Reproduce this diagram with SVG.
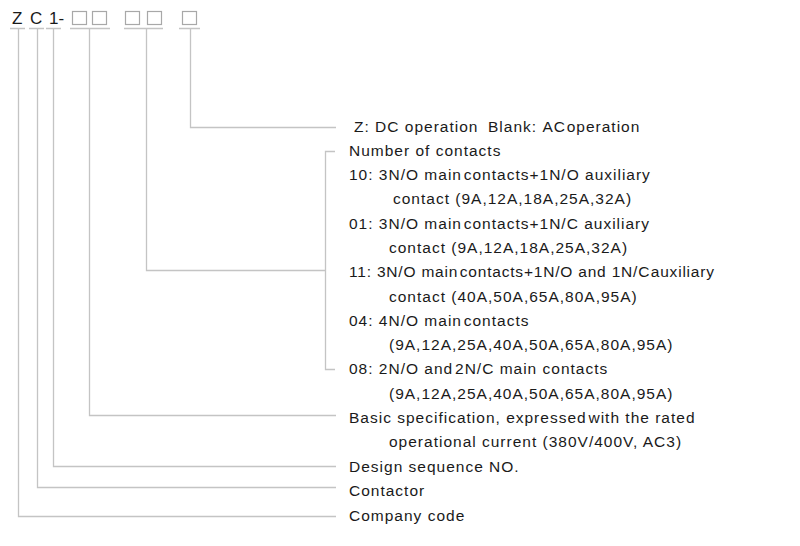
<svg xmlns="http://www.w3.org/2000/svg" width="800" height="546" viewBox="0 0 800 546">
<style>
.t{font-family:"Liberation Sans",Arial,sans-serif;font-size:15.5px;letter-spacing:1px;fill:#1a1a1a}
.h{font-family:"Liberation Sans",Arial,sans-serif;font-size:17px;fill:#1a1a1a}
.n{word-spacing:-3.5px}
.z{word-spacing:-4.5px}
.s{letter-spacing:0.8px}
.l{stroke:#c4c4c4;stroke-width:1.3;fill:none}
.b{stroke:#a8a8a8;stroke-width:1.2;fill:#fff}
</style>
<rect width="800" height="546" fill="#fff"/>
<g id="code">
<text class="h" x="12" y="24">Z</text>
<text class="h" x="30" y="24">C</text>
<text class="h" x="49" y="24">1-</text>
<rect class="b" x="72.5" y="11.5" width="14" height="13"/>
<rect class="b" x="92.5" y="11.5" width="14" height="13"/>
<rect class="b" x="125.5" y="11.5" width="14" height="13"/>
<rect class="b" x="147.5" y="11.5" width="14" height="13"/>
<rect class="b" x="182.5" y="11.5" width="14" height="13"/>
</g>
<g id="connectors">
<path class="l" d="M10 28.5H25M29 28.5H44M46 28.5H61M70 28.5H110M124 28.5H163M179 28.5H200"/>
<path class="l" d="M190.5 29V127.5H336"/>
<path class="l" d="M146.5 29V270.5H325.5"/>
<path class="l" d="M335 151.5H325.5V369.5H335"/>
<path class="l" d="M89.5 29V415.5H336"/>
<path class="l" d="M53.5 29V466.5H336"/>
<path class="l" d="M37.5 29V487.5H336"/>
<path class="l" d="M18.5 29V516.5H336"/>
</g>
<g id="operation"><text class="t" x="354" y="132">Z: DC operation<tspan x="488">Blank: <tspan class="z">AC operation</tspan></tspan></text></g>
<g id="contacts">
<text class="t" x="349" y="156">Number of contacts</text>
<text class="t" x="349" y="180">10: 3N/O <tspan class="n">main contacts</tspan>+1N/O auxiliary</text>
<text class="t" x="393" y="204">contact (9A,12A,18A,25A,32A)</text>
<text class="t" x="349" y="229">01: 3N/O <tspan class="n">main contacts</tspan>+1N/C auxiliary</text>
<text class="t" x="389" y="253">contact (9A,12A,18A,25A,32A)</text>
<text class="t s" x="349" y="277">11: 3N/O <tspan class="n">main contacts</tspan>+1N/O and <tspan class="z">1N/C auxiliary</tspan></text>
<text class="t" x="389" y="302">contact (40A,50A,65A,80A,95A)</text>
<text class="t" x="349" y="326">04: 4N/O <tspan class="n">main contacts</tspan></text>
<text class="t" x="389" y="350">(9A,12A,25A,40A,50A,65A,80A,95A)</text>
<text class="t" x="349" y="374">08: 2N/O <tspan class="n">and 2N/C</tspan> main contacts</text>
<text class="t" x="389" y="399">(9A,12A,25A,40A,50A,65A,80A,95A)</text>
</g>
<g id="spec">
<text class="t" x="349" y="423">Basic specification, <tspan class="n">expressed with</tspan> the rated</text>
<text class="t" x="389" y="447">operational current (380V/400V, AC3)</text>
</g>
<g id="design"><text class="t" x="349" y="472">Design sequence NO.</text></g>
<g id="contactor"><text class="t" x="349" y="496">Contactor</text></g>
<g id="company"><text class="t" x="349" y="521">Company code</text></g>
</svg>
